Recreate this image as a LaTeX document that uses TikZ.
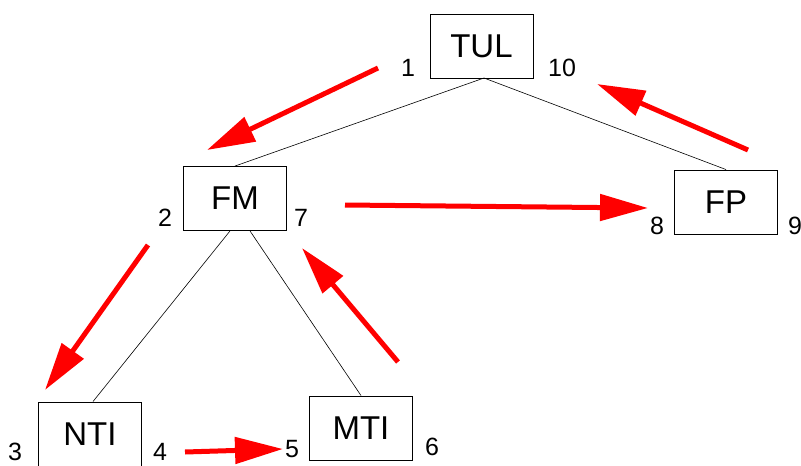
\documentclass[tikz,border=0pt]{standalone}
\usepackage{fontspec}
\setmainfont{Liberation Sans}
\usetikzlibrary{arrows.meta}
\begin{document}
\begin{tikzpicture}[x=1pt,y=-1pt,
  unit/.style={draw,line width=0.9pt,minimum width=103pt,minimum height=64pt,
    inner sep=0pt,font=\fontsize{33}{33}\selectfont},
  num/.style={font=\fontsize{25}{25}\selectfont,inner sep=0pt},
  edge/.style={line width=0.6pt},
  step arrow/.style={draw=red,line width=5pt,
    -{Triangle[length=48pt,width=26pt]}}]
\useasboundingbox (0,0) rectangle (801,466);
% organisational units
\node[unit] (tul) at (481.5,46) {TUL};
\node[unit] (fm)  at (235,198.5) {FM};
\node[unit] (fp)  at (726,202) {FP};
\node[unit] (nti) at (90,434) {NTI};
\node[unit] (mti) at (361,428) {MTI};
% tree edges
\coordinate (tulb) at (484,78);
\draw[edge] (tulb) -- (fm.north);
\draw[edge] (tulb) -- (fp.north);
\draw[edge] ([xshift=-5pt]fm.south) -- ([xshift=3pt]nti.north);
\draw[edge] ([xshift=15pt]fm.south) -- (mti.north);
% visiting order
\node[num] (n1)  at (408,68)  {1};
\node[num] (n10) at (562,68)  {10};
\node[num] (n2)  at (165,218) {2};
\node[num] (n7)  at (301,218) {7};
\node[num] (n8)  at (657,226) {8};
\node[num] (n9)  at (795,226) {9};
\node[num] (n3)  at (15,452)  {3};
\node[num] (n4)  at (160,452) {4};
\node[num] (n5)  at (292,449) {5};
\node[num] (n6)  at (432,447) {6};
% traversal arrows
\coordinate (a1s) at (378,68);  \coordinate (a1e) at (207,150);
\coordinate (a2s) at (148,245); \coordinate (a2e) at (45,390);
\coordinate (a3s) at (185,452); \coordinate (a3e) at (283,449);
\coordinate (a4s) at (398,362); \coordinate (a4e) at (302,248);
\coordinate (a5s) at (345,205); \coordinate (a5e) at (648,208);
\coordinate (a6s) at (748,150); \coordinate (a6e) at (597,84);
\draw[step arrow] (a1s) -- (a1e);
\draw[step arrow] (a2s) -- (a2e);
\draw[step arrow] (a3s) -- (a3e);
\draw[step arrow] (a4s) -- (a4e);
\draw[step arrow] (a5s) -- (a5e);
\draw[step arrow] (a6s) -- (a6e);
\end{tikzpicture}
\end{document}
